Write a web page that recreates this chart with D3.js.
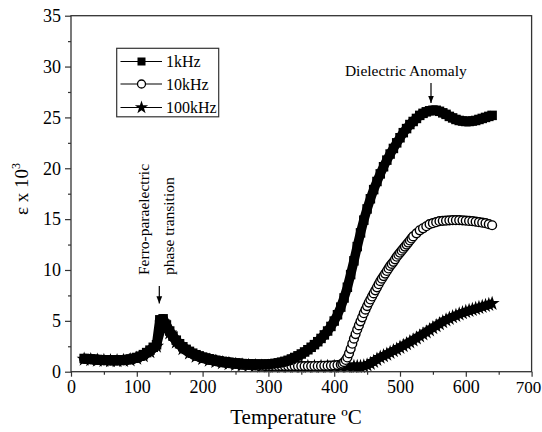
<!DOCTYPE html>
<html><head><meta charset="utf-8">
<script src="https://cdn.jsdelivr.net/npm/d3@7"></script>
<style>body{margin:0;background:#fff}svg{display:block}text{font-family:"Liberation Serif","Times New Roman",serif;fill:#000}</style>
</head><body><svg id="c" width="542" height="432"></svg>
<script>
// ---- data ----
const seriesNames = ["1kHz", "10kHz", "100kHz"];
const xTicks = [0,100,200,300,400,500,600,700];
const yTicks = [0,5,10,15,20,25,30,35];

const t1k = [20,25,30,35,40,45,50,55,60,65,70,75,80,85,90,95,100,105,110,115,120,125,130,135,140,145,150,155,160,165,170,175,180,185,190,195,200,205,210,215,220,225,230,235,240,245,250,255,260,265,270,275,280,285,290,295,300,305,310,315,320,325,330,335,340,345,350,355,360,365,370,375,380,385,390,395,400,405,410,415,420,425,430,435,440,445,450,455,460,465,470,475,480,485,490,495,500,505,510,515,520,525,530,535,540,545,550,555,560,565,570,575,580,585,590,595,600,605,610,615,620,625,630,635,640];
const v1k = [1.30,1.28,1.25,1.22,1.20,1.18,1.16,1.15,1.14,1.14,1.14,1.15,1.17,1.20,1.25,1.32,1.40,1.52,1.68,1.88,2.12,2.40,2.65,5.10,5.20,4.60,4.00,3.50,3.10,2.75,2.45,2.20,2.00,1.82,1.67,1.55,1.44,1.35,1.27,1.20,1.13,1.07,1.02,0.97,0.93,0.89,0.86,0.83,0.80,0.78,0.76,0.75,0.74,0.73,0.73,0.74,0.75,0.78,0.82,0.87,0.94,1.02,1.12,1.25,1.40,1.56,1.74,1.94,2.16,2.40,2.66,2.95,3.27,3.62,4.00,4.45,4.98,5.60,6.35,7.25,8.30,9.55,10.90,12.30,13.65,14.90,16.00,17.00,17.90,18.70,19.45,20.15,20.80,21.40,21.95,22.50,23.00,23.50,23.90,24.30,24.60,24.90,25.20,25.40,25.55,25.65,25.70,25.70,25.60,25.45,25.30,25.10,24.95,24.80,24.70,24.65,24.60,24.60,24.65,24.70,24.80,24.90,25.00,25.10,25.20];

const t10k = [20,25,30,35,40,45,50,55,60,65,70,75,80,85,90,95,100,105,110,115,120,125,130,135,140,145,150,155,160,165,170,175,180,185,190,195,200,205,210,215,220,225,230,235,240,245,250,255,260,265,270,275,280,285,290,295,300,305,310,315,320,325,330,335,340,345,350,355,360,365,370,375,380,385,390,395,400,405,410,412.5,415,417.5,420,422.5,425,427.5,430,432.5,435,437.5,440,442.5,445,447.5,450,452.5,455,457.5,460,462.5,465,467.5,470,472.5,475,477.5,480,482.5,485,487.5,490,492.5,495,497.5,500,502.5,505,507.5,510,512.5,515,517.5,520,525,530,535,540,545,550,555,560,565,570,575,580,585,590,595,600,605,610,615,620,625,630,635,640];
const v10k = [1.25,1.23,1.20,1.17,1.15,1.13,1.11,1.10,1.09,1.09,1.09,1.10,1.12,1.15,1.20,1.27,1.35,1.47,1.62,1.82,2.05,2.35,2.60,5.00,5.10,4.50,3.90,3.40,3.00,2.65,2.35,2.10,1.90,1.72,1.57,1.45,1.34,1.25,1.17,1.10,1.03,0.97,0.92,0.87,0.83,0.79,0.76,0.73,0.70,0.68,0.66,0.64,0.62,0.61,0.60,0.59,0.58,0.57,0.56,0.56,0.55,0.55,0.55,0.55,0.55,0.55,0.55,0.55,0.55,0.55,0.56,0.56,0.57,0.58,0.59,0.60,0.62,0.65,0.70,0.80,0.95,1.15,1.40,1.80,2.25,2.75,3.25,3.70,4.15,4.55,4.95,5.35,5.75,6.10,6.45,6.80,7.10,7.40,7.70,8.00,8.30,8.60,8.90,9.15,9.40,9.65,9.90,10.15,10.40,10.60,10.80,11.05,11.30,11.50,11.70,11.90,12.10,12.30,12.50,12.70,12.90,13.10,13.30,13.60,13.90,14.10,14.30,14.50,14.60,14.70,14.80,14.83,14.85,14.88,14.90,14.90,14.90,14.88,14.85,14.82,14.80,14.75,14.70,14.65,14.60,14.50,14.40];

const t100k = [20,30,40,50,60,70,80,90,100,110,120,130,140,150,160,170,180,190,200,210,220,230,240,250,260,270,280,290,300,310,320,330,340,350,360,370,380,390,400,410,420,430,435,440,445,450,455,460,465,470,475,480,485,490,495,500,505,510,515,520,525,530,535,540,545,550,555,560,565,570,575,580,585,590,595,600,605,610,615,620,625,630,635,640];
const v100k = [1.22,1.17,1.12,1.08,1.06,1.06,1.08,1.15,1.30,1.55,1.95,2.50,4.90,3.80,2.90,2.25,1.82,1.50,1.28,1.12,0.98,0.87,0.78,0.70,0.64,0.59,0.56,0.53,0.52,0.51,0.50,0.50,0.50,0.50,0.50,0.50,0.50,0.50,0.50,0.50,0.50,0.50,0.50,0.50,0.55,0.65,0.80,1.00,1.20,1.40,1.55,1.70,1.88,2.05,2.20,2.38,2.55,2.73,2.92,3.10,3.30,3.50,3.70,3.90,4.10,4.30,4.50,4.70,4.90,5.08,5.23,5.38,5.52,5.66,5.78,5.90,6.00,6.10,6.20,6.30,6.40,6.50,6.60,6.70];

// ---- chart ----
const svg = d3.select("#c");
const L = 71, R = 531.6, T = 15.7, B = 371.7;
const x = d3.scaleLinear().domain([0,700]).range([L,R]);
const y = d3.scaleLinear().domain([0,35]).range([B,T]);

const pts = (ts, vs) => ts.map((t,i)=>[t, vs[i]]);
const d1 = pts(t1k, v1k), d10 = pts(t10k, v10k), d100 = pts(t100k, v100k);
const line = d3.line().x(d=>x(d[0])).y(d=>y(d[1]));

const plot = svg.append("g");
// 100kHz stars
plot.append("path").attr("d", line(d100)).attr("fill","none").attr("stroke","#000").attr("stroke-width",8.5).attr("stroke-linejoin","round");
const star = d3.symbol().type(d3.symbolStar).size(70);
plot.selectAll(".s100").data(d100).join("path").attr("d", star)
  .attr("transform", d=>`translate(${x(d[0])},${y(d[1])})`).attr("fill","#000");
// 10kHz open circles
plot.append("path").attr("d", line(d10)).attr("fill","none").attr("stroke","#000").attr("stroke-width",1);
plot.selectAll(".s10").data(d10).join("circle").attr("cx", d=>x(d[0])).attr("cy", d=>y(d[1])).attr("r",4.4)
  .attr("fill","#fff").attr("stroke","#000").attr("stroke-width",1.4);
// 1kHz filled squares
plot.append("path").attr("d", line(d1)).attr("fill","none").attr("stroke","#000").attr("stroke-width",9.5).attr("stroke-linejoin","round");
plot.selectAll(".s1").data(d1).join("rect").attr("x", d=>x(d[0])-4.75).attr("y", d=>y(d[1])-4.75).attr("width",9.5).attr("height",9.5).attr("fill","#000");

// frame
svg.append("rect").attr("x",L).attr("y",T).attr("width",R-L).attr("height",B-T).attr("fill","none").attr("stroke","#333").attr("stroke-width",1.3);

// axes
svg.append("g").attr("transform",`translate(0,${B})`)
  .call(d3.axisBottom(x).tickValues(xTicks).tickSize(5).tickPadding(4).tickFormat(d3.format("d")));
svg.append("g").attr("transform",`translate(0,${B})`)
  .call(d3.axisBottom(x).tickValues(d3.range(50,700,100)).tickSize(3).tickFormat(""));
svg.append("g").attr("transform",`translate(${L},0)`)
  .call(d3.axisLeft(y).tickValues(yTicks).tickSize(6).tickPadding(4).tickFormat(d3.format("d")));
svg.append("g").attr("transform",`translate(${L},0)`)
  .call(d3.axisLeft(y).tickValues(d3.range(2.5,35,5)).tickSize(3).tickFormat(""));
svg.selectAll(".domain").remove();
svg.selectAll(".tick line").attr("stroke","#333").attr("stroke-width",1.2);
svg.selectAll(".tick text").style("font-family",'"Liberation Serif",serif').style("font-size","18px").attr("fill","#000");
svg.selectAll(".tick text").filter(d=>d===700).style("font-size","17px").attr("dx",-3.5);

// axis titles
svg.append("text").attr("x",296).attr("y",424).attr("text-anchor","middle").style("font-size","21px").text("Temperature ºC");
const yt = svg.append("text").attr("transform","translate(28,189) rotate(-90)").attr("text-anchor","middle").style("font-size","19px");
yt.append("tspan").text("ε x 10");
yt.append("tspan").attr("dy",-8).style("font-size","12px").text("3");

// legend
const lg = svg.append("g");
lg.append("rect").attr("x",116.7).attr("y",48.3).attr("width",102).attr("height",68.5).attr("fill","#fff").attr("stroke","#333").attr("stroke-width",1.2);
const rows = [61.5, 84, 107.5];
rows.forEach((ry,i)=>{
  lg.append("line").attr("x1",120.5).attr("x2",162).attr("y1",ry).attr("y2",ry).attr("stroke","#000").attr("stroke-width",1.2);
  if(i===0) lg.append("rect").attr("x",141.5-4).attr("y",ry-4).attr("width",8).attr("height",8).attr("fill","#000");
  if(i===1) lg.append("circle").attr("cx",141.5).attr("cy",ry).attr("r",4).attr("fill","#fff").attr("stroke","#000").attr("stroke-width",1.3);
  if(i===2) lg.append("path").attr("d",d3.symbol().type(d3.symbolStar).size(55)()).attr("transform",`translate(141.5,${ry})`).attr("fill","#000");
  lg.append("text").attr("x",166).attr("y",ry+5.5).style("font-size","16px").text(seriesNames[i]);
});

// annotations
svg.append("defs").append("marker").attr("id","ah").attr("viewBox","0 0 10 10").attr("refX",10).attr("refY",5)
  .attr("markerWidth",6).attr("markerHeight",6).attr("orient","auto")
  .append("path").attr("d","M0,1L10,5L0,9Z").attr("fill","#000");
svg.append("text").attr("x",405.8).attr("y",76).attr("text-anchor","middle").style("font-size","15.5px").text("Dielectric Anomaly");
svg.append("line").attr("x1",431).attr("x2",431).attr("y1",83).attr("y2",103).attr("stroke","#000").attr("stroke-width",1.2).attr("marker-end","url(#ah)");
svg.append("text").attr("transform","translate(148.5,275) rotate(-90)").style("font-size","15.5px").text("Ferro-paraelectric");
svg.append("text").attr("transform","translate(174,275) rotate(-90)").style("font-size","15.5px").text("phase transition");
svg.append("line").attr("x1",159.3).attr("x2",159.3).attr("y1",286).attr("y2",303.5).attr("stroke","#000").attr("stroke-width",1.2).attr("marker-end","url(#ah)");
</script></body></html>
